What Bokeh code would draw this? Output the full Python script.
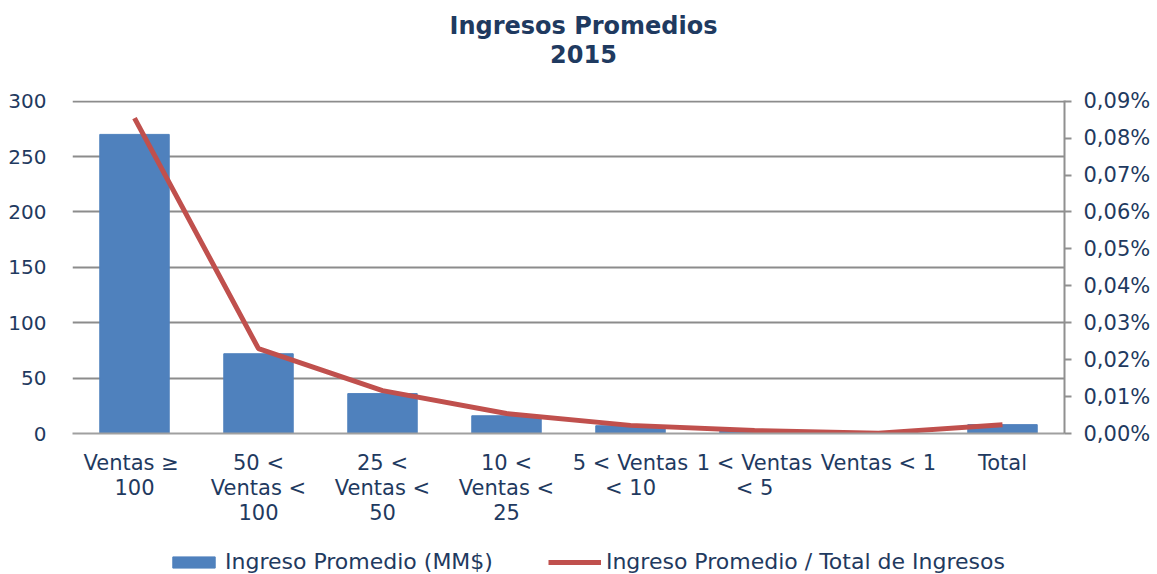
from bokeh.plotting import figure
from bokeh.layouts import column
from bokeh.models import Range1d, LinearAxis, FixedTicker, Legend, LegendItem, ColumnDataSource, Label
from bokeh.embed import file_html
from bokeh.resources import INLINE

categories = ["Ventas  \u2265\n100", "50 <\nVentas <\n100", "25 <\nVentas <\n50", "10 <\nVentas <\n25",
              "5 < Ventas\n< 10", "1 < Ventas\n< 5", "Ventas < 1", "Total"]
ingreso_promedio = [270, 72, 36, 16, 7, 2.5, 0.5, 8]
ingreso_pct = [0.0854, 0.0230, 0.0116, 0.0054, 0.0022, 0.0008, 0.0001, 0.0024]
left_ticks = [0, 50, 100, 150, 200, 250, 300]
right_ticks = [0.0, 0.01, 0.02, 0.03, 0.04, 0.05, 0.06, 0.07, 0.08, 0.09]
right_labels = ["0,00%", "0,01%", "0,02%", "0,03%", "0,04%", "0,05%", "0,06%", "0,07%", "0,08%", "0,09%"]
series_names = ["Ingreso Promedio (MM$)", "Ingreso Promedio / Total de Ingresos"]
title_lines = ["Ingresos Promedios", "2015"]

FONT = "DejaVu Sans"
TXT = "#1F3A60"
BAR = "#4F81BD"
LINE = "#C0504D"
PAD = 1.002  # keep top gridline fully visible

xs = [i + 0.5 for i in range(len(categories))]
src = ColumnDataSource(dict(x=xs, bar=ingreso_promedio, pct=ingreso_pct))

# ---- header strip with the two-line title
h = figure(width=1157, height=88, output_backend="svg", toolbar_location=None,
           x_axis_type=None, y_axis_type=None, x_range=Range1d(0, 1), y_range=Range1d(0, 1),
           min_border_left=0, min_border_right=0, min_border_top=0, min_border_bottom=0)
h.outline_line_color = None
h.grid.visible = False
for txt, yy in zip(title_lines, [25, 53]):
    h.add_layout(Label(x=583, y=yy, x_units="canvas", y_units="canvas", text=txt,
                       text_align="center", text_baseline="middle", text_font=FONT,
                       text_font_size="24px", text_font_style="bold", text_color=TXT))

# ---- main chart
p = figure(width=1157, height=452, output_backend="svg", toolbar_location=None,
           x_range=Range1d(0, len(categories)), y_range=Range1d(0, 300 * PAD),
           min_border_left=72, min_border_right=93, min_border_top=12, min_border_bottom=107)
p.outline_line_color = None
p.background_fill_color = "white"
p.border_fill_color = "white"

p.extra_y_ranges = {"pct": Range1d(0, 0.09 * PAD)}

p.vbar(x="x", top="bar", width=0.56, source=src, color=BAR)
p.line(x="x", y="pct", source=src, y_range_name="pct", line_color=LINE, line_width=5)

p.xaxis.ticker = FixedTicker(ticks=xs)
p.xaxis.major_label_overrides = {x: c for x, c in zip(xs, categories)}
p.xaxis.major_tick_line_color = None
p.xaxis.minor_tick_line_color = None
p.xaxis.axis_line_color = "#A0A0A0"
p.xaxis.axis_line_width = 2
p.xaxis.major_label_standoff = 11
p.xaxis.major_label_text_line_height = 1.05

p.yaxis.ticker = FixedTicker(ticks=left_ticks)
p.yaxis.axis_line_color = None
p.yaxis.major_tick_line_color = None
p.yaxis.minor_tick_line_color = None
p.yaxis.major_label_standoff = 20

ra = LinearAxis(y_range_name="pct", ticker=FixedTicker(ticks=right_ticks))
ra.major_label_overrides = {t: l for t, l in zip(right_ticks, right_labels)}
ra.axis_line_color = "#909090"
ra.axis_line_width = 2
ra.major_tick_line_color = "#909090"
ra.major_tick_line_width = 2
ra.major_tick_in = 0
ra.major_tick_out = 7
ra.minor_tick_line_color = None
ra.major_label_standoff = 12
p.add_layout(ra, "right")

for ax, fs in [(p.xaxis[0], "21px"), (p.yaxis[0], "20px"), (ra, "21px")]:
    ax.major_label_text_font = FONT
    ax.major_label_text_font_size = fs
    ax.major_label_text_color = TXT

p.xgrid.grid_line_color = None
p.ygrid.ticker = FixedTicker(ticks=left_ticks)
p.ygrid.grid_line_color = "#8C8C8C"
p.ygrid.grid_line_width = 2

# ---- legend strip below the chart
q = figure(width=1157, height=34, output_backend="svg", toolbar_location=None,
           x_axis_type=None, y_axis_type=None, x_range=Range1d(0, 1), y_range=Range1d(0, 1),
           min_border_left=0, min_border_right=0, min_border_top=0, min_border_bottom=0)
q.outline_line_color = None
q.grid.visible = False
dummy = ColumnDataSource(dict(x=[-50], y=[-50], top=[-50]))
lb = q.vbar(x="x", top="top", width=0.1, source=dummy, color=BAR)
ll = q.line(x="x", y="y", source=dummy, line_color=LINE, line_width=5)
legend = Legend(items=[LegendItem(label=series_names[0], renderers=[lb]),
                       LegendItem(label=series_names[1], renderers=[ll])],
                orientation="horizontal", location=(95, 0),
                label_text_font=FONT, label_text_font_size="22px", label_text_color=TXT,
                border_line_color=None, background_fill_alpha=0,
                glyph_width=53, glyph_height=14, spacing=55, padding=0, margin=0, label_standoff=5)
q.add_layout(legend, "center")

open("out.html", "w").write(file_html(column(h, p, q, spacing=0), INLINE))
